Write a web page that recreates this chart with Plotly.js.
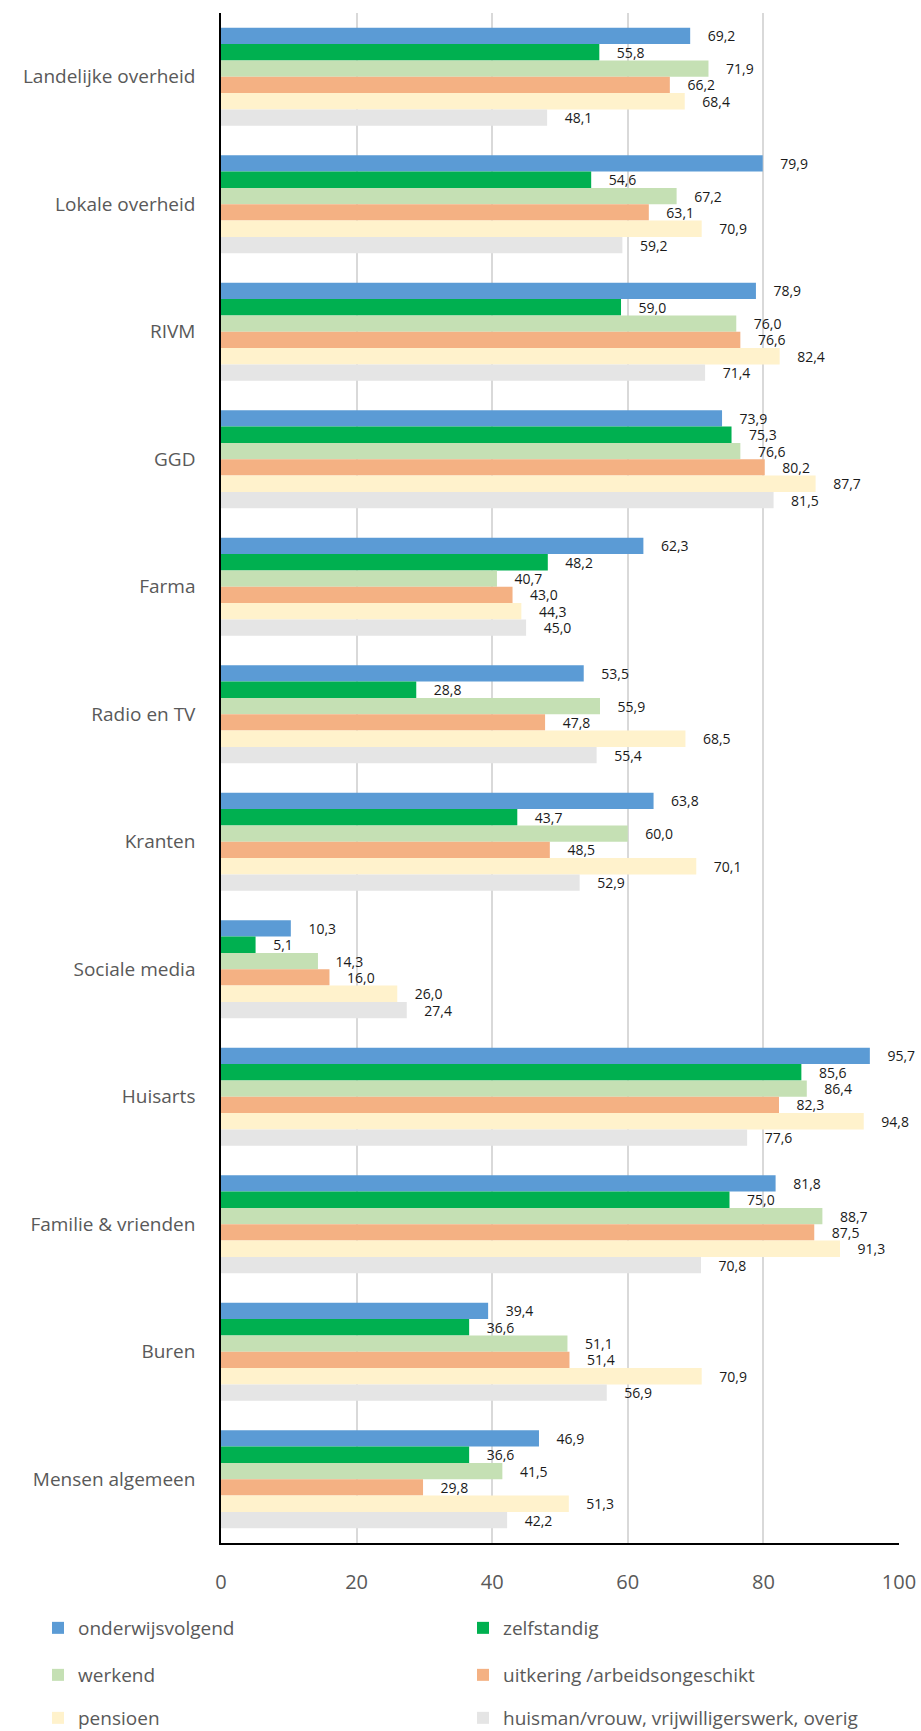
<!DOCTYPE html>
<html>
<head>
<meta charset="utf-8">
<script src="https://cdn.plot.ly/plotly-3.0.1.min.js"></script>
<style>html,body{margin:0;padding:0;background:#fff;}#chart{width:921px;height:1731px;}</style>
</head>
<body>
<div id="chart"></div>
<script>
const categories = ["Landelijke overheid","Lokale overheid","RIVM","GGD","Farma","Radio en TV","Kranten","Sociale media","Huisarts","Familie & vrienden","Buren","Mensen algemeen"];
const seriesNames = ["onderwijsvolgend","zelfstandig","werkend","uitkering /arbeidsongeschikt","pensioen","huisman/vrouw, vrijwilligerswerk, overig"];
const onderwijsvolgend = [69.2,79.9,78.9,73.9,62.3,53.5,63.8,10.3,95.7,81.8,39.4,46.9];
const zelfstandig      = [55.8,54.6,59.0,75.3,48.2,28.8,43.7,5.1,85.6,75.0,36.6,36.6];
const werkend          = [71.9,67.2,76.0,76.6,40.7,55.9,60.0,14.3,86.4,88.7,51.1,41.5];
const uitkering        = [66.2,63.1,76.6,80.2,43.0,47.8,48.5,16.0,82.3,87.5,51.4,29.8];
const pensioen         = [68.4,70.9,82.4,87.7,44.3,68.5,70.1,26.0,94.8,91.3,70.9,51.3];
const huisman          = [48.1,59.2,71.4,81.5,45.0,55.4,52.9,27.4,77.6,70.8,56.9,42.2];
const xTicks = [0,20,40,60,80,100];

const seriesValues = [onderwijsvolgend,zelfstandig,werkend,uitkering,pensioen,huisman];
const colors = ["#5B9BD5","#00B050","#C5E0B4","#F4B183","#FFF2CC","#E5E5E5"];
const legendIds = ["legend","legend","legend2","legend2","legend3","legend3"];
const FONT = '"Open Sans", sans-serif';

const traces = seriesValues.map((vals,i)=>({
  type:'bar', orientation:'h', name:seriesNames[i],
  x:vals, y:categories,
  marker:{color:colors[i]},
  texttemplate:'\u00a0\u00a0\u00a0\u00a0%{x:.1f}',
  textposition:'outside', cliponaxis:false, constraintext:'none',
  textfont:{family:FONT, size:14, color:'#1a1a1a'},
  legend:legendIds[i], hoverinfo:'skip'
}));

// plot area: x 221..899 (w 678), y 13..1543 (h 1530)
const pyToPaper = py => (1543 - py) / 1530;
const pxToPaper = px => (px - 221) / 678;
const legendBase = {orientation:'h', xref:'paper', yref:'paper', x:pxToPaper(38), xanchor:'left', yanchor:'middle',
  entrywidth:380, entrywidthmode:'pixels', font:{family:FONT, size:19, color:'#595959'}, bgcolor:'rgba(0,0,0,0)'};

const layout = {
  width:921, height:1731,
  margin:{l:221, r:22, t:13, b:188, autoexpand:false},
  paper_bgcolor:'#fff', plot_bgcolor:'#fff',
  separators:',.',
  barmode:'group', bargap:0.23, bargroupgap:0,
  font:{family:FONT, color:'#595959'},
  showlegend:true,
  legend:Object.assign({}, legendBase, {y:pyToPaper(1628)}),
  legend2:Object.assign({}, legendBase, {y:pyToPaper(1675)}),
  legend3:Object.assign({}, legendBase, {y:pyToPaper(1718)}),
  xaxis:{range:[0,100], tickvals:xTicks, showgrid:true, gridcolor:'#D9D9D9', gridwidth:2,
    zeroline:false, showline:true, linecolor:'#000', linewidth:2, ticks:'', ticklabelstandoff:20,
    tickfont:{family:FONT, size:20, color:'#595959'}, fixedrange:true},
  yaxis:{autorange:'reversed', showline:true, linecolor:'#000', linewidth:2,
    ticks:'', ticksuffix:'\u00a0\u00a0\u00a0\u00a0',
    tickfont:{family:FONT, size:19, color:'#595959'}, showgrid:false, fixedrange:true}
};

Plotly.newPlot('chart', traces, layout, {displayModeBar:false, staticPlot:true});
</script>
</body>
</html>
